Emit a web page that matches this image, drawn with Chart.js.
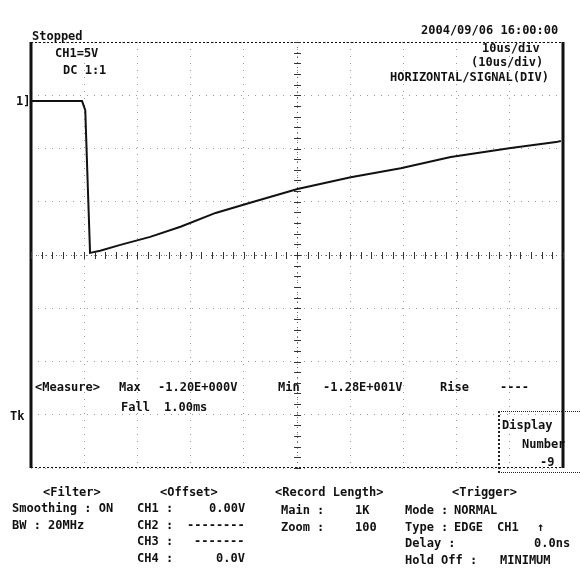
<!DOCTYPE html>
<html>
<head>
<meta charset="utf-8">
<script src="https://cdn.jsdelivr.net/npm/chart.js@4/dist/chart.umd.min.js"></script>
<style>
  html, body { margin: 0; padding: 0; background: #fff; }
  #wrap { position: relative; width: 580px; height: 573px; overflow: hidden; }
  #scope { position: absolute; left: 0; top: 0; }
  .t { position: absolute; font: bold 12px "DejaVu Sans Mono", monospace; color: #111; white-space: pre; line-height: 14px; }
  #dispbox { position: absolute; left: 498px; top: 411px; width: 100px; height: 60px;
             border-left: 2px dotted #222; border-top: 1px dotted #222; border-bottom: 1px dotted #222; }
</style>
</head>
<body>
<div id="wrap">
  <canvas id="scope" width="580" height="573"></canvas>
  <div id="dispbox"></div>
</div>
<script>
// CH1 waveform, time in µs (10 µs/div), voltage in V (5 V/div)
const timeUs = [0, 9.6, 10.2, 10.7, 11.1, 13.0, 16.8, 22.4, 28.1, 34.7, 41.2, 50.1, 60.1, 69.5, 78.9, 90.2, 98.7, 99.6];
const ch1Volts = [14.45, 14.45, 13.6, 6.1, 0.2, 0.4, 0.95, 1.7, 2.65, 3.95, 4.9, 6.2, 7.3, 8.15, 9.2, 10.05, 10.6, 10.7];

const xMin = 0, xMax = 100, xStep = 10;
const yMin = -20, yMax = 20, yStep = 5;

// labels drawn round the graticule: [text, left, centreY]
const labels = [
  ["Stopped", 32, 36],
  ["2004/09/06 16:00:00", 421, 30],
  ["10us/div", 482, 48],
  ["(10us/div)", 471, 62],
  ["HORIZONTAL/SIGNAL(DIV)", 390, 77],
  ["CH1=5V", 55, 53],
  ["DC 1:1", 63, 70],
  ["1]", 16, 101],
  ["<Measure>", 35, 387], ["Max", 119, 387], ["-1.20E+000V", 158, 387],
  ["Min", 278, 387], ["-1.28E+001V", 323, 387], ["Rise", 440, 387], ["----", 500, 387],
  ["Fall", 121, 407], ["1.00ms", 164, 407],
  ["Tk", 10, 416],
  ["Display", 502, 425], ["Number", 522, 444], ["-9", 540, 462],
  ["<Filter>", 43, 492], ["Smoothing : ON", 12, 508], ["BW : 20MHz", 12, 525],
  ["<Offset>", 160, 492],
  ["CH1 :", 137, 508], ["0.00V", 209, 508],
  ["CH2 :", 137, 525], ["--------", 187, 525],
  ["CH3 :", 137, 541], ["-------", 194, 541],
  ["CH4 :", 137, 558], ["0.0V", 216, 558],
  ["<Record Length>", 275, 492],
  ["Main :", 281, 510], ["1K", 355, 510],
  ["Zoom :", 281, 527], ["100", 355, 527],
  ["<Trigger>", 452, 492],
  ["Mode :", 405, 510], ["NORMAL", 454, 510],
  ["Type :", 405, 527], ["EDGE", 454, 527], ["CH1", 497, 527], ["\u2191", 537, 527],
  ["Delay :", 405, 543], ["0.0ns", 534, 543],
  ["Hold Off :", 405, 560], ["MINIMUM", 500, 560]
];

const wrap = document.getElementById('wrap');
labels.forEach(([txt, x, y]) => {
  const d = document.createElement('div');
  d.className = 't';
  d.textContent = txt;
  d.style.left = x + 'px';
  d.style.top = (y - 7) + 'px';
  wrap.appendChild(d);
});

// frame, centre lines with minor ticks
const graticule = {
  id: 'graticule',
  afterDraw(chart) {
    const { ctx, chartArea: a, scales } = chart;
    const cx = scales.x.getPixelForValue((xMin + xMax) / 2);
    const cy = scales.y.getPixelForValue((yMin + yMax) / 2);
    ctx.save();
    ctx.strokeStyle = '#111';
    // thick sides
    ctx.lineWidth = 3;
    ctx.beginPath();
    ctx.moveTo(a.left, a.top); ctx.lineTo(a.left, a.bottom);
    ctx.moveTo(a.right, a.top); ctx.lineTo(a.right, a.bottom);
    ctx.stroke();
    // thin dotted top/bottom
    ctx.lineWidth = 1;
    ctx.setLineDash([2, 2]);
    ctx.beginPath();
    ctx.moveTo(a.left, a.top + 0.5); ctx.lineTo(a.right, a.top + 0.5);
    ctx.moveTo(a.left, a.bottom - 0.5); ctx.lineTo(a.right, a.bottom - 0.5);
    ctx.stroke();
    // centre lines
    ctx.strokeStyle = '#666';
    ctx.setLineDash([1, 4]);
    ctx.beginPath();
    ctx.moveTo(a.left, cy + 0.5); ctx.lineTo(a.right, cy + 0.5);
    ctx.moveTo(cx + 0.5, a.top); ctx.lineTo(cx + 0.5, a.bottom);
    ctx.stroke();
    // minor ticks every 1/5 division
    ctx.setLineDash([]);
    ctx.strokeStyle = '#333';
    ctx.beginPath();
    for (let v = xMin; v <= xMax; v += xStep / 5) {
      const px = Math.round(scales.x.getPixelForValue(v)) + 0.5;
      ctx.moveTo(px, cy - 3); ctx.lineTo(px, cy + 4);
    }
    for (let v = yMin; v <= yMax; v += yStep / 5) {
      const py = Math.round(scales.y.getPixelForValue(v)) + 0.5;
      ctx.moveTo(cx - 3, py); ctx.lineTo(cx + 4, py);
    }
    ctx.stroke();
    ctx.restore();
  }
};

new Chart(document.getElementById('scope'), {
  type: 'scatter',
  data: {
    datasets: [{
      label: 'CH1',
      data: timeUs.map((t, i) => ({ x: t, y: ch1Volts[i] })),
      showLine: true,
      borderColor: '#111',
      borderWidth: 2,
      pointRadius: 0,
      tension: 0
    }]
  },
  options: {
    responsive: false,
    animation: false,
    layout: { padding: { left: 31, top: 42, right: 17, bottom: 105 } },
    plugins: { legend: { display: false }, tooltip: { enabled: false } },
    scales: {
      x: {
        type: 'linear', min: xMin, max: xMax,
        ticks: { display: false, stepSize: xStep },
        grid: { color: '#9a9a9a', drawTicks: false },
        border: { display: false, dash: [1, 6] }
      },
      y: {
        type: 'linear', min: yMin, max: yMax,
        ticks: { display: false, stepSize: yStep },
        grid: { color: '#9a9a9a', drawTicks: false },
        border: { display: false, dash: [1, 6] }
      }
    }
  },
  plugins: [graticule]
});
</script>
</body>
</html>
